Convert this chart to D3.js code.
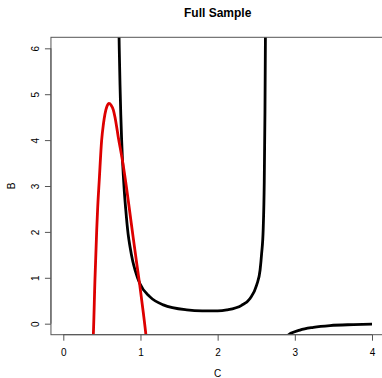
<!DOCTYPE html>
<html>
<head>
<meta charset="utf-8">
<script src="https://cdn.jsdelivr.net/npm/d3@7"></script>
<style>
    html, body { margin: 0; padding: 0; background: #fff; overflow: hidden; }
    svg { display: block; font-family: "Liberation Sans", Arial, sans-serif; }
</style>
</head>
<body>
<svg id="chart" width="382" height="378"></svg>
<script>
// ===== DATA =====
const xTicks = [0, 1, 2, 3, 4];
const yTicks = [0, 1, 2, 3, 4, 5, 6];

// black curve, first branch (poles near C = 0.71 and C = 2.63)
const blackX1 = [0.708, 0.715, 0.725, 0.735, 0.745, 0.756, 0.766, 0.777, 0.79, 0.808, 0.84, 0.864, 0.9, 0.93, 0.99, 1.12, 1.295, 1.6, 1.8, 2.0, 2.12, 2.31, 2.42, 2.505, 2.55, 2.57, 2.59, 2.604, 2.613, 2.62, 2.624];
const blackY1 = [7.8, 7.0, 6.0, 5.2, 4.55, 4.0, 3.6, 3.25, 2.9, 2.51, 1.95, 1.68, 1.36, 1.17, 0.88, 0.59, 0.41, 0.30, 0.28, 0.28, 0.30, 0.40, 0.55, 0.84, 1.17, 1.53, 2.05, 3.1, 4.6, 6.5, 8.0];

// black curve, second branch
const blackX2 = [2.89, 2.915, 3.066, 3.24, 3.455, 3.76, 4.0];
const blackY2 = [-0.4, -0.25, -0.14, -0.08, -0.04, -0.02, -0.01];

// red curve
const redX = [0.383, 0.389, 0.41, 0.433, 0.445, 0.466, 0.497, 0.52, 0.54, 0.565, 0.592, 0.62, 0.648, 0.67, 0.712, 0.765, 0.82, 0.864, 0.907, 0.95, 0.99, 1.036, 1.071, 1.08];
const redY = [-0.45, -0.25, 0.95, 2.04, 2.51, 3.13, 4.0, 4.35, 4.57, 4.73, 4.8, 4.76, 4.66, 4.5, 4.07, 3.57, 2.95, 2.4, 1.86, 1.33, 0.85, 0.25, -0.25, -0.4];

// ===== CHART =====
const svg = d3.select('#chart');
const x = d3.scaleLinear().domain([-0.16, 4.16]).range([50.95, 384.35]);
const y = d3.scaleLinear().domain([-0.24, 6.24]).range([334.7, 37.3]);

const axisColor = '#555';

svg.append('clipPath').attr('id', 'plotClip')
    .append('rect')
    .attr('x', x(-0.16)).attr('y', y(6.24))
    .attr('width', x(4.16) - x(-0.16))
    .attr('height', y(-0.24) - y(6.24));

const line = d3.line()
    .x(d => x(d[0]))
    .y(d => y(d[1]))
    .curve(d3.curveMonotoneX);

const plot = svg.append('g').attr('clip-path', 'url(#plotClip)');

plot.append('path')
    .datum(d3.zip(blackX1, blackY1))
    .attr('d', line)
    .attr('fill', 'none')
    .attr('stroke', '#000')
    .attr('stroke-width', 2.8);

plot.append('path')
    .datum(d3.zip(blackX2, blackY2))
    .attr('d', line)
    .attr('fill', 'none')
    .attr('stroke', '#000')
    .attr('stroke-width', 2.8);

plot.append('path')
    .datum(d3.zip(redX, redY))
    .attr('d', line)
    .attr('fill', 'none')
    .attr('stroke', '#dd0000')
    .attr('stroke-width', 2.8);

// box
svg.append('rect')
    .attr('x', x(-0.16)).attr('y', y(6.24))
    .attr('width', x(4.16) - x(-0.16))
    .attr('height', y(-0.24) - y(6.24))
    .attr('fill', 'none')
    .attr('stroke', axisColor)
    .attr('stroke-width', 1);

// x axis
const xAxis = svg.append('g')
    .attr('transform', `translate(0,${y(-0.24)})`)
    .call(d3.axisBottom(x).tickValues(xTicks).tickSize(6).tickPadding(8).tickSizeOuter(0).tickFormat(d3.format('d')));
xAxis.select('.domain').attr('d', `M${x(0)},0H${x(4)}`).attr('stroke', axisColor);
xAxis.selectAll('.tick line').attr('stroke', axisColor);
xAxis.selectAll('.tick text').attr('font-size', 10).attr('fill', '#000')
    .attr('font-family', '"Liberation Sans", Arial, sans-serif');

// y axis (labels rotated, as R draws them)
const yAxis = svg.append('g')
    .attr('transform', `translate(${x(-0.16)},0)`)
    .call(d3.axisLeft(y).tickValues(yTicks).tickSize(6).tickSizeOuter(0).tickFormat(d3.format('d')));
yAxis.select('.domain').attr('d', `M0,${y(0)}V${y(6)}`).attr('stroke', axisColor);
yAxis.selectAll('.tick line').attr('stroke', axisColor);
yAxis.selectAll('.tick text')
    .attr('font-size', 10).attr('fill', '#000')
    .attr('font-family', '"Liberation Sans", Arial, sans-serif')
    .attr('x', null).attr('dy', null)
    .attr('text-anchor', 'middle')
    .attr('transform', 'translate(-12,0) rotate(-90)');

// title and axis labels
svg.append('text')
    .attr('x', (x(-0.16) + x(4.16)) / 2).attr('y', 17)
    .attr('text-anchor', 'middle')
    .attr('font-size', 12).attr('font-weight', 'bold')
    .text('Full Sample');

svg.append('text')
    .attr('x', (x(-0.16) + x(4.16)) / 2).attr('y', 377)
    .attr('text-anchor', 'middle')
    .attr('font-size', 10)
    .text('C');

svg.append('text')
    .attr('transform', `translate(15,${(y(-0.24) + y(6.24)) / 2}) rotate(-90)`)
    .attr('text-anchor', 'middle')
    .attr('font-size', 10)
    .text('B');
</script>
</body>
</html>
